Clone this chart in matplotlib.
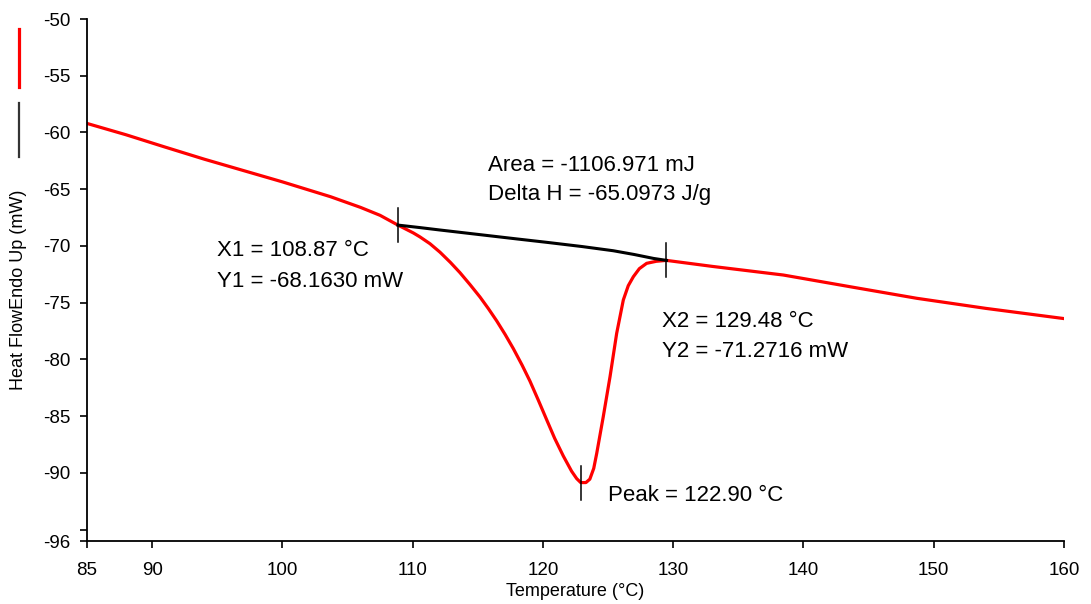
import matplotlib.pyplot as plt
from matplotlib.lines import Line2D

plt.rcParams['font.family'] = ['Liberation Sans', 'DejaVu Sans']

# heat flow curve (temperature degC, mW)
temp = [85, 88, 90.9, 94, 97.3, 100, 103.7, 106, 107.5, 108.87, 110.05,
        110.56, 111.33, 112.1, 112.9, 113.63, 114.4, 115.17, 115.8, 116.45,
        117.1, 117.73, 118.4, 119.0, 119.65, 120.3, 120.9, 121.56, 122.2,
        122.59, 122.9, 123.3, 123.6, 123.9, 124.13, 124.63, 125.15, 125.66,
        126.17, 126.55, 126.94, 127.4, 127.96, 128.7, 129.48, 133, 138.45,
        143.57, 148.69, 154, 160]
heat = [-59.2, -60.2, -61.25, -62.35, -63.45, -64.35, -65.66, -66.6, -67.3,
        -68.16, -68.85, -69.2, -69.8, -70.55, -71.45, -72.35, -73.4, -74.5,
        -75.5, -76.6, -77.8, -79.05, -80.5, -81.9, -83.6, -85.35, -86.95,
        -88.5, -89.85, -90.5, -90.85, -90.85, -90.55, -89.6, -88.27, -85.05,
        -81.52, -77.7, -74.76, -73.5, -72.71, -72.0, -71.53, -71.35, -71.27,
        -71.8, -72.56, -73.59, -74.61, -75.5, -76.4]

# integration baseline
base_t = [108.87, 110.56, 112, 115, 118, 120.3, 123, 125.4, 127, 128.5, 129.48]
base_v = [-68.16, -68.38, -68.58, -68.98, -69.38, -69.68, -70.05, -70.42,
          -70.75, -71.1, -71.27]

# marked points: X1, X2, peak
mark_t = [108.87, 129.48, 122.90]
mark_v = [-68.163, -71.2716, -90.85]

xticks = [85, 90, 100, 110, 120, 130, 140, 150, 160]
yticks = [-50, -55, -60, -65, -70, -75, -80, -85, -90, -95, -96]
ylabels = ['-50', '-55', '-60', '-65', '-70', '-75', '-80', '-85', '-90', '', '-96']

fig = plt.figure(figsize=(10.91, 6.04), dpi=100)
ax = fig.add_axes([0.0797, 0.1043, 0.8956, 0.8642])

ax.plot(temp, heat, color='#ff0000', lw=2.3, solid_joinstyle='round')
ax.plot(base_t, base_v, color='black', lw=2.2)
for t, v in zip(mark_t, mark_v):
    ax.plot([t, t], [v - 1.5, v + 1.5], color='black', lw=1.1)

ax.set_xlim(85, 160)
ax.set_ylim(-96, -50)
ax.set_xticks(xticks)
ax.set_yticks(yticks)
ax.set_yticklabels(ylabels)
ax.tick_params(labelsize=13.5, length=5, width=1.2, direction='out', colors='black')
ax.tick_params(axis='y', pad=7)
ax.tick_params(axis='x', pad=10)
ax.spines['top'].set_visible(False)
ax.spines['right'].set_visible(False)
ax.spines['left'].set_linewidth(1.3)
ax.spines['bottom'].set_linewidth(1.3)

ax.set_xlabel('Temperature (°C)', fontsize=13, labelpad=3)
fig.text(0.0174, 0.52, 'Heat FlowEndo Up (mW)', rotation=90, fontsize=13,
         ha='center', va='center')

ts = 16
ax.text(115.78, -62.87, 'Area = -1106.971 mJ', fontsize=ts, va='center')
ax.text(115.78, -65.5, 'Delta H = -65.0973 J/g', fontsize=ts, va='center')
ax.text(94.98, -70.36, 'X1 = 108.87 °C', fontsize=ts, va='center')
ax.text(94.98, -73.09, 'Y1 = -68.1630 mW', fontsize=ts, va='center')
ax.text(129.14, -76.7, 'X2 = 129.48 °C', fontsize=ts, va='center')
ax.text(129.14, -79.26, 'Y2 = -71.2716 mW', fontsize=ts, va='center')
ax.text(125.0, -92.03, 'Peak = 122.90 °C', fontsize=ts, va='center')

# legend handles drawn as short vertical strokes on the left
fig.add_artist(Line2D([0.0174, 0.0174], [1 - 29 / 604, 1 - 87 / 604],
                      color='#ff0000', lw=2.3))
fig.add_artist(Line2D([0.0174, 0.0174], [1 - 103 / 604, 1 - 157 / 604],
                      color='#333333', lw=1.6))

fig.savefig('out.png', dpi=100)
